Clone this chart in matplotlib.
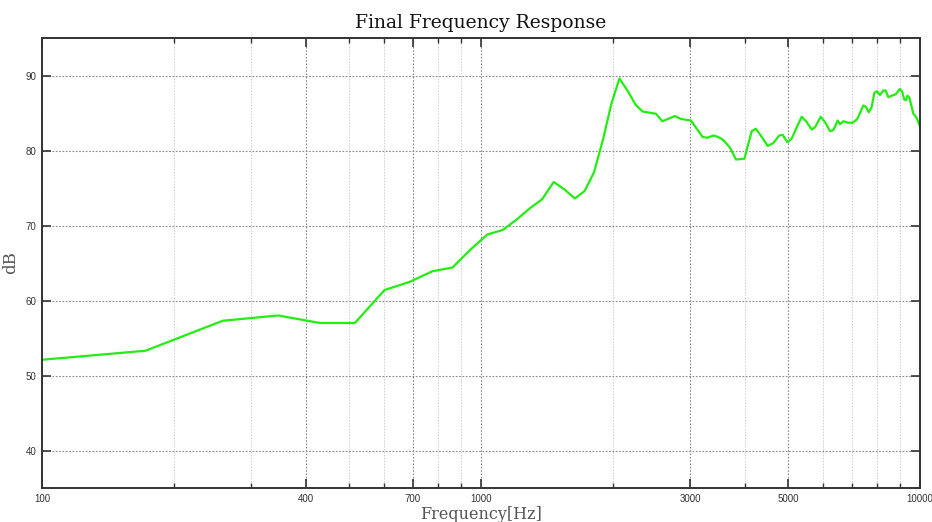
import matplotlib
matplotlib.use("Agg")
import matplotlib.pyplot as plt
from matplotlib.ticker import FixedLocator, NullFormatter

freq_hz = [100, 172, 258, 345, 430, 516, 603, 689, 775, 861, 947, 1033, 1120, 1206,
           1292, 1378, 1464, 1550, 1636, 1722, 1809, 1895, 1981, 2067, 2166, 2250,
           2334, 2504, 2589, 2767, 2855, 3009, 3100, 3198, 3278, 3383, 3472, 3563,
           3690, 3808, 3981, 4138, 4230, 4360, 4500, 4634, 4781, 4865, 4986, 5103,
           5238, 5377, 5518, 5666, 5766, 5940, 6074, 6237, 6346, 6494, 6574, 6688,
           6865, 7025, 7197, 7427, 7532, 7640, 7762, 7870, 7990, 8105, 8250, 8350,
           8470, 8620, 8810, 8995, 9114, 9206, 9290, 9353, 9455, 9656, 9795, 10000]
level_db = [52.1, 53.3, 57.3, 58.0, 57.0, 57.0, 61.4, 62.5, 63.9, 64.4, 66.8, 68.8,
            69.4, 70.8, 72.3, 73.5, 75.8, 74.8, 73.6, 74.6, 77.1, 81.4, 86.2, 89.6,
            87.8, 86.1, 85.2, 84.9, 83.9, 84.6, 84.2, 84.0, 82.9, 81.8, 81.7, 82.0,
            81.8, 81.4, 80.4, 78.8, 78.9, 82.6, 82.9, 81.8, 80.6, 81.0, 82.0, 82.1,
            81.1, 81.6, 83.1, 84.5, 83.8, 82.8, 83.1, 84.5, 83.8, 82.6, 82.7, 84.0,
            83.5, 83.9, 83.7, 83.7, 84.2, 86.0, 85.8, 85.1, 85.8, 87.7, 87.9, 87.4,
            88.0, 88.0, 87.1, 87.3, 87.5, 88.2, 87.8, 86.8, 86.7, 87.3, 87.1, 84.9,
            84.5, 83.2]

x_labeled = [100, 400, 700, 1000, 3000, 5000, 10000]
x_minor = [200, 300, 500, 600, 800, 900, 2000, 4000, 6000, 7000, 8000, 9000]
y_ticks = [40, 50, 60, 70, 80, 90]

title = "Final Frequency Response"
xlabel = "Frequency[Hz]"
ylabel = "dB"

fig = plt.figure(figsize=(9.32, 5.22), dpi=100)
ax = fig.add_axes([42/932, 34/522, 878/932, 450/522])

ax.set_xscale("log")
ax.set_xlim(100, 10000)
ax.set_ylim(35, 95)

ax.xaxis.set_major_locator(FixedLocator(x_labeled))
ax.xaxis.set_minor_locator(FixedLocator(x_minor))
ax.set_xticklabels([str(v) for v in x_labeled])
ax.xaxis.set_minor_formatter(NullFormatter())
ax.set_yticks(y_ticks)
ax.set_yticklabels([str(v) for v in y_ticks])

ax.tick_params(axis="both", which="major", direction="in", length=6.5, width=1.2,
               color="#333333", labelsize=7, labelcolor="#333333",
               top=True, right=True, pad=4)
ax.tick_params(axis="both", which="minor", direction="in", length=3.6, width=1.0,
               color="#333333", top=True, right=True)
for lab in ax.get_xticklabels() + ax.get_yticklabels():
    lab.set_family(["Liberation Sans", "DejaVu Sans"])

ax.grid(True, which="major", axis="both", linestyle=(0, (1.5, 1.5)),
        color="#888888", linewidth=0.8)
ax.grid(True, which="minor", axis="x", linestyle=(0, (1.5, 1.5)),
        color="#cccccc", linewidth=0.7)

for s in ax.spines.values():
    s.set_color("#333333")
    s.set_linewidth(1.4)

ax.plot(freq_hz, level_db, color="#22ee11", linewidth=1.6)

serif = ["DejaVu Serif"]
ax.set_title(title, family=serif, fontsize=13.5, color="#111111", pad=7)
ax.set_xlabel(xlabel, family=serif, fontsize=11.5, color="#555555", labelpad=2)
ax.set_ylabel(ylabel, family=serif, fontsize=12, color="#555555", labelpad=5)

fig.savefig("out.png", dpi=100)
